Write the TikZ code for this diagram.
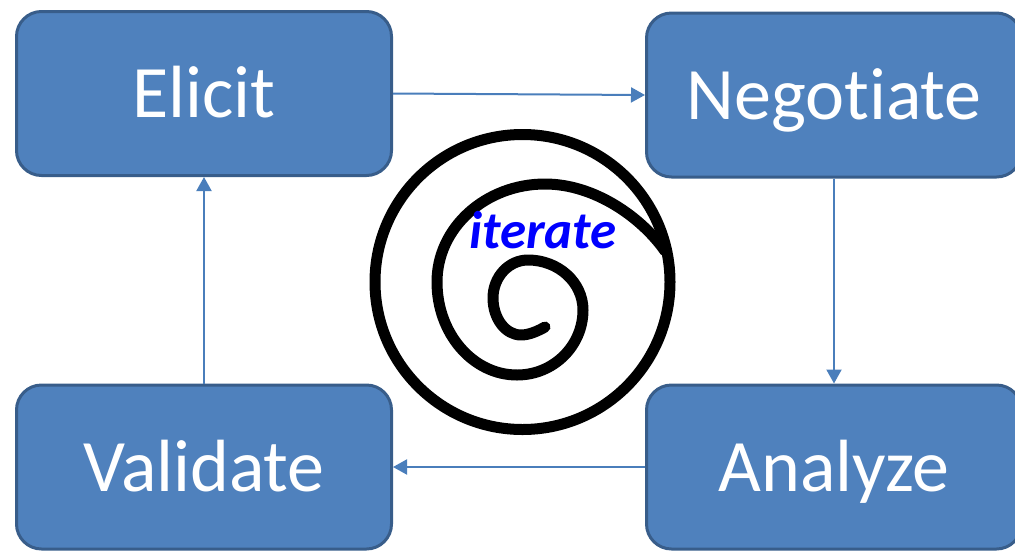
\documentclass[tikz,border=0pt]{standalone}
\usepackage{fontspec}
\setmainfont{Carlito}[Ligatures={NoCommon}]
\usetikzlibrary{arrows.meta}
\definecolor{boxfill}{HTML}{4F81BD}
\definecolor{boxline}{HTML}{385D8A}
\definecolor{flow}{HTML}{4A7EBB}
\begin{document}
\begin{tikzpicture}[x=1pt,y=-1pt,
  stagebox/.style={draw=boxline, fill=boxfill, line width=3pt,
    rounded corners=25pt, minimum width=375pt, minimum height=164pt,
    text=white, text height=48pt, text depth=0pt, inner sep=0pt,
    font=\fontsize{74}{80}\selectfont},
  flowline/.style={draw=flow, line width=2pt,
    -{Triangle[length=14pt,width=15pt]}},
  spiralline/.style={draw=black, line width=11pt, line cap=round, line join=round}]
\useasboundingbox (0,0) rectangle (1015,550);
\clip (0,0) rectangle (1015,550);

% the four stages
\node[stagebox] (elicit)    at (204,93.5) {Elicit};
\node[stagebox] (negotiate) at (834,95)   {Negotiate};
\node[stagebox] (analyze)   at (834,467)  {Analyze};
\node[stagebox] (validate)  at (204,467)  {Validate};

% cycle between the stages
\draw[flowline] (elicit.east) -- (negotiate.west);
\draw[flowline] (negotiate.south) -- (analyze.north);
\draw[flowline] (analyze.west) -- (validate.east);
\draw[flowline] (validate.north) -- (elicit.south);

% spiral in the middle: outer ring, and the coil winding out into it
\draw[spiralline] (522.5,282) circle[radius=147.5pt];
\draw[spiralline]
  (545,327) .. controls (538,331) and (529,335) .. (521,335)      % end hook
            .. controls (505.5,335) and (493,318.4) .. (493,298)
            .. controls (493,277) and (508.7,260) .. (528,260)
            .. controls (558.4,260) and (583,282.4) .. (583,310)
            .. controls (583,345.9) and (553.5,375) .. (517,375)
            .. controls (472.8,375) and (437,333.4) .. (437,282)
            .. controls (437,227.9) and (485.4,184) .. (545,184)
            .. controls (595,184) and (642,218) .. (665,251);

\node[text=blue, anchor=base, font=\fontsize{53}{60}\selectfont\bfseries\itshape]
  (iterate) at (543,248) {iterate};
\end{tikzpicture}
\end{document}
